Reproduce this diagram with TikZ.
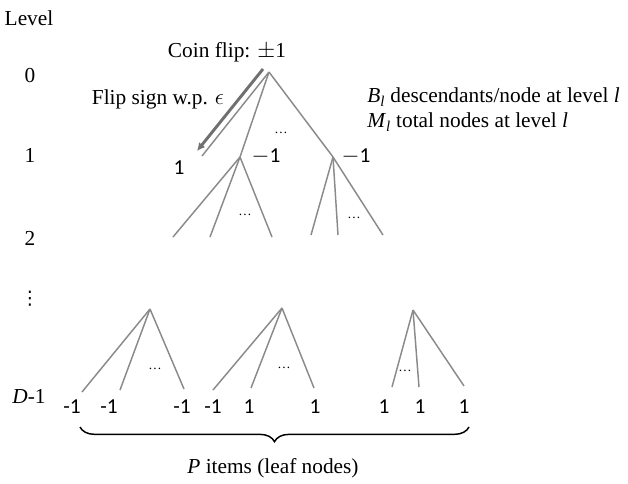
\documentclass[tikz,border=0pt]{standalone}
\usepackage{amsmath}
\usepackage{fontspec}
\setmainfont{Liberation Serif}
\newfontfamily\numfont{Carlito}
\newfontfamily\symfont{DejaVu Sans}
\usetikzlibrary{decorations.pathreplacing,arrows.meta}
\definecolor{branchgray}{HTML}{8A8A8A}
\definecolor{arrowgray}{HTML}{707070}

\begin{document}
\begin{tikzpicture}[x=0.75pt,y=-0.75pt,
    branch/.style={draw=branchgray, line width=1.1pt},
    lvl/.style={font=\fontsize{16}{19}\selectfont, inner sep=0pt},
    val/.style={font=\numfont\fontsize{16}{19}\selectfont, inner sep=0pt},
    more/.style={font=\fontsize{10}{10}\selectfont, inner sep=0pt}
  ]
  \useasboundingbox (0,0) rectangle (628,483);

  % level column
  \node[lvl] (lvtitle) at (29,18) {Level};
  \node[lvl] (lv0) at (30,76) {0};
  \node[lvl] (lv1) at (30,155) {1};
  \node[lvl] (lv2) at (30,238) {2};
  \node[lvl, font=\symfont\fontsize{14}{16}\selectfont] (lvdots) at (30,299) {⋮};
  \node[lvl] (lvD) at (29,396) {\textit{D}-1};

  % top of the tree
  \coordinate (root) at (269,72);
  \coordinate (c1) at (202,156);
  \coordinate (c2) at (240,157);
  \coordinate (c3) at (333,157);
  \foreach \kid in {c1,c2,c3} \draw[branch] (root) -- (\kid);
  \draw[-{Latex[length=6pt,width=6pt]}, draw=arrowgray, line width=2.2pt]
    (263,69) -- (197,151);

  \node[lvl] (coin) at (227,52) {Coin flip: $\pm$1};
  \node[lvl] (flipsign) at (158,99) {Flip sign w.p. $\epsilon$};
  \node[lvl, anchor=west] (bdesc) at (367,97) {\textit{B}\textsubscript{\textit{l}} descendants/node at level \textit{l}};
  \node[lvl, anchor=west] (mtot) at (367,122) {\textit{M}\textsubscript{\textit{l}} total nodes at level \textit{l}};
  \node[more] (dots0) at (281,133) {\ldots};
  \node[val] (v1) at (179,168) {1};
  \node[val] (v2) at (266,157) {$-$1};
  \node[val] (v3) at (356,157) {$-$1};

  % level 2 branches
  \foreach \nm/\x in {g1/173,g2/210,g3/272} {
    \coordinate (\nm) at (\x,237);
    \draw[branch] (c2) -- (\nm);
  }
  \foreach \nm/\x in {h1/311,h2/338,h3/383} {
    \coordinate (\nm) at (\x,235);
    \draw[branch] (c3) -- (\nm);
  }
  \node[more] (dots1) at (245,215) {\ldots};
  \node[more] (dots2) at (354,218) {\ldots};

  % bottom subtrees
  \coordinate (sa) at (150,309);
  \coordinate (sb) at (282,308);
  \coordinate (sc) at (413,310);
  \foreach \nm/\x/\y in {a1/82/392,a2/120/390,a3/184/389} {
    \coordinate (\nm) at (\x,\y);
    \draw[branch] (sa) -- (\nm);
  }
  \foreach \nm/\x/\y in {b1/213/390,b2/251/388,b3/314/388} {
    \coordinate (\nm) at (\x,\y);
    \draw[branch] (sb) -- (\nm);
  }
  \foreach \nm/\x/\y in {d1/392/387,d2/419/387,d3/464/386} {
    \coordinate (\nm) at (\x,\y);
    \draw[branch] (sc) -- (\nm);
  }
  \node[more] (dots3) at (155,369) {\ldots};
  \node[more] (dots4) at (284,368) {\ldots};
  \node[more] (dots5) at (405,371) {\ldots};

  % leaves
  \foreach \nm/\x/\t in {l1/72/-1,l2/109/-1,l3/182/-1,l4/213/-1,l5/249/1,l6/315/1,l7/384/1,l8/420/1,l9/464/1}
    \node[val] (\nm) at (\x,407) {\t};

  \coordinate (brl) at (80,427);
  \coordinate (brr) at (469,427);
  \draw[decorate, decoration={brace, mirror, amplitude=11pt}, line width=1.1pt] (brl) -- (brr);
  \node[lvl] (pitems) at (273,468) {\textit{P} items (leaf nodes)};
\end{tikzpicture}
\end{document}
